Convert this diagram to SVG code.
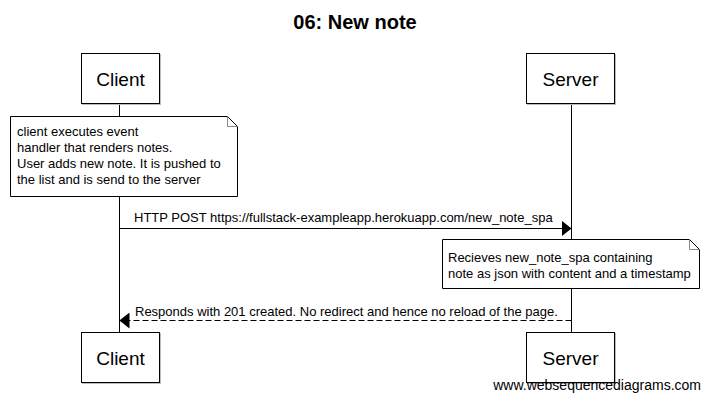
<svg xmlns="http://www.w3.org/2000/svg" width="709" height="406" viewBox="0 0 709 406">
<defs>
<style>
text{font-family:"Liberation Sans",Arial,sans-serif;fill:#000}
.title{font-size:20px;font-weight:bold;text-anchor:middle}
.actor rect.box{fill:#fff;stroke:#000;stroke-width:1}
.actor rect.shadow{fill:#bbb}
.actor text{font-size:19px;text-anchor:middle}
.life{stroke:#000;stroke-width:1;fill:none}
.note path.body{fill:#fff;stroke:#000;stroke-width:1}
.note path.fold{fill:none;stroke:#888;stroke-width:1}
.note text{font-size:13px}
.msg{stroke:#000;stroke-width:1;fill:none}
.dashed{stroke-dasharray:6,3}
.lbl{font-size:13px}
.wm{font-size:14px;text-anchor:end}
</style>
<marker id="ah" viewBox="0 0 10 16" refX="10" refY="8" markerWidth="10" markerHeight="16" markerUnits="userSpaceOnUse" orient="auto">
<path d="M0,0 L10,8 L0,16 Z" fill="#000"/>
</marker>
</defs>
<rect width="709" height="406" fill="#fff"/>
<text class="title" x="355" y="29">06: New note</text>

<g id="lifelines">
<line class="life" x1="119.5" y1="103" x2="119.5" y2="333"/>
<line class="life" x1="571.5" y1="103" x2="571.5" y2="333"/>
</g>

<g id="client-top" class="actor">
<rect class="shadow" x="82" y="54" width="79" height="51"/>
<rect class="box" x="81.5" y="53.5" width="78" height="50"/>
<text x="120.5" y="86">Client</text>
</g>
<g id="server-top" class="actor">
<rect class="shadow" x="527" y="54" width="89" height="51"/>
<rect class="box" x="526.5" y="53.5" width="88" height="50"/>
<text x="570.5" y="86">Server</text>
</g>

<g id="note-client" class="note">
<path class="body" d="M10.5,116.5 H227.5 L237.5,126.5 V196.5 H10.5 Z"/>
<path class="fold" d="M227.5,116.5 V126.5 H237.5"/>
<text x="17" y="136">client executes event</text>
<text x="17" y="152">handler that renders notes.</text>
<text x="17" y="168">User adds new note. It is pushed to</text>
<text x="17" y="184">the list and is send to the server</text>
</g>

<g id="note-server" class="note">
<path class="body" d="M442.5,239.5 H689.5 L699.5,249.5 V288.5 H442.5 Z"/>
<path class="fold" d="M689.5,239.5 V249.5 H699.5"/>
<text x="448" y="262">Recieves new_note_spa containing</text>
<text x="448" y="278">note as json with content and a timestamp</text>
</g>

<g id="connectors">
<line class="msg" x1="119.5" y1="228.5" x2="571.5" y2="228.5" marker-end="url(#ah)"/>
<text class="lbl" x="134" y="222">HTTP POST https://fullstack-exampleapp.herokuapp.com/new_note_spa</text>
<line class="msg dashed" x1="571.5" y1="320.5" x2="119.5" y2="320.5" marker-end="url(#ah)"/>
<text class="lbl" x="135" y="316">Responds with 201 created. No redirect and hence no reload of the page.</text>
</g>

<g id="client-bottom" class="actor">
<rect class="shadow" x="82" y="333" width="79" height="51"/>
<rect class="box" x="81.5" y="332.5" width="78" height="50"/>
<text x="120.5" y="365">Client</text>
</g>
<g id="server-bottom" class="actor">
<rect class="shadow" x="527" y="333" width="89" height="51"/>
<rect class="box" x="526.5" y="332.5" width="88" height="50"/>
<text x="570.5" y="365">Server</text>
</g>

<text class="wm" x="701" y="390">www.websequencediagrams.com</text>
</svg>
